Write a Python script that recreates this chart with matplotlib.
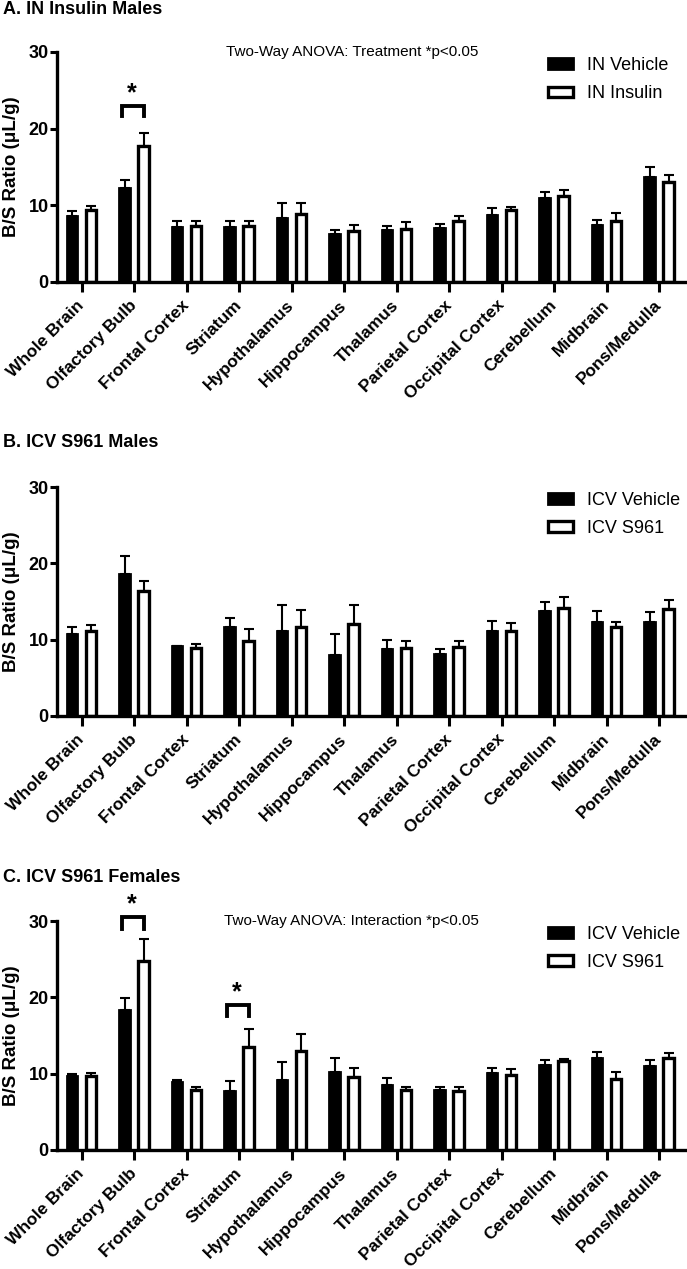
import numpy as np
import matplotlib
matplotlib.use('Agg')
import matplotlib.pyplot as plt

plt.rcParams['font.family'] = ['Liberation Sans', 'DejaVu Sans']

regions = ['Whole Brain', 'Olfactory Bulb', 'Frontal Cortex', 'Striatum', 'Hypothalamus',
           'Hippocampus', 'Thalamus', 'Parietal Cortex', 'Occipital Cortex', 'Cerebellum',
           'Midbrain', 'Pons/Medulla']

# A. IN insulin males
a_veh = [8.6, 12.3, 7.2, 7.2, 8.3, 6.2, 6.8, 7.0, 8.8, 10.9, 7.5, 13.7]
a_veh_sem = [0.6, 1.0, 0.8, 0.8, 2.0, 0.6, 0.5, 0.6, 0.8, 0.8, 0.65, 1.3]
a_trt = [9.35, 17.7, 7.35, 7.35, 8.9, 6.6, 6.9, 8.0, 9.35, 11.2, 8.0, 13.1]
a_trt_sem = [0.55, 1.8, 0.55, 0.55, 1.4, 0.9, 0.9, 0.65, 0.4, 0.85, 1.0, 0.9]

# B. ICV S961 males
b_veh = [10.8, 18.6, 9.15, 11.6, 11.1, 7.95, 8.8, 8.1, 11.2, 13.8, 12.25, 12.25]
b_veh_sem = [0.9, 2.35, 0.05, 1.3, 3.5, 2.8, 1.2, 0.7, 1.25, 1.2, 1.5, 1.35]
b_trt = [11.1, 16.4, 8.95, 9.8, 11.65, 12.0, 8.95, 9.1, 11.1, 14.1, 11.6, 14.05]
b_trt_sem = [0.8, 1.3, 0.5, 1.65, 2.2, 2.6, 0.9, 0.75, 1.1, 1.5, 0.75, 1.2]

# C. ICV S961 females
c_veh = [9.65, 18.4, 8.85, 7.75, 9.2, 10.2, 8.5, 7.9, 10.05, 11.2, 12.0, 10.95]
c_veh_sem = [0.3, 1.55, 0.3, 1.25, 2.35, 1.9, 0.9, 0.35, 0.7, 0.6, 0.9, 0.9]
c_trt = [9.65, 24.8, 7.8, 13.5, 12.95, 9.5, 7.8, 7.75, 9.85, 11.6, 9.3, 12.1]
c_trt_sem = [0.4, 2.9, 0.4, 2.4, 2.2, 1.25, 0.4, 0.45, 0.8, 0.35, 0.95, 0.65]

panels = [
    ('A. IN Insulin Males', a_veh, a_veh_sem, a_trt, a_trt_sem, 'IN Vehicle', 'IN Insulin',
     'Two-Way ANOVA: Treatment *p<0.05', [(1, 21.6, 23.0, 24.6)]),
    ('B. ICV S961 Males', b_veh, b_veh_sem, b_trt, b_trt_sem, 'ICV Vehicle', 'ICV S961',
     None, []),
    ('C. ICV S961 Females', c_veh, c_veh_sem, c_trt, c_trt_sem, 'ICV Vehicle', 'ICV S961',
     'Two-Way ANOVA: Interaction *p<0.05', [(1, 29.0, 30.5, 32.2), (3, 17.5, 19.0, 20.7)]),
]

W, H = 687, 1269
fig = plt.figure(figsize=(W / 100, H / 100), dpi=100)

axes_px = [(52, 282), (487, 716), (921, 1150)]
title_px = [10, 442, 878]
x = np.arange(len(regions))
off = 0.18
bw = 0.2

for i, (title, veh, veh_sem, trt, trt_sem, lab1, lab2, note, sig) in enumerate(panels):
    top, bot = axes_px[i]
    ax = fig.add_axes([57 / W, 1 - bot / H, 630 / W, (bot - top) / H])
    ax.errorbar(x - off, veh, yerr=[np.zeros(len(veh)), veh_sem], fmt='none',
                ecolor='black', elinewidth=1.5, capsize=3.5, capthick=1.5, zorder=1)
    ax.errorbar(x + off, trt, yerr=[np.zeros(len(trt)), trt_sem], fmt='none',
                ecolor='black', elinewidth=1.5, capsize=3.5, capthick=1.5, zorder=1)
    ax.bar(x - off, veh, width=bw, color='black', edgecolor='black', linewidth=2, label=lab1, zorder=2)
    ax.bar(x + off, trt, width=bw, color='white', edgecolor='black', linewidth=2.4, label=lab2, zorder=2)

    ax.set_xlim(-0.47, 11.53)
    ax.set_ylim(0, 30)
    ax.set_yticks([0, 10, 20, 30])
    ax.set_xticks(x)
    ax.set_xticklabels(regions, rotation=45, ha='right', va='center', rotation_mode='anchor',
                       fontsize=12.5, fontweight='bold')
    for lbl in ax.get_yticklabels():
        lbl.set_fontweight('bold')
        lbl.set_fontsize(13)
    for s in ['top', 'right']:
        ax.spines[s].set_visible(False)
    for s in ['left', 'bottom']:
        ax.spines[s].set_linewidth(2.4)
    ax.tick_params(axis='y', direction='out', length=5, width=2.2, pad=1)
    ax.tick_params(axis='x', direction='out', length=7, width=2.2, pad=8)
    ax.set_ylabel('B/S Ratio (\u03bcL/g)', fontsize=13.5, fontweight='bold')
    ax.yaxis.set_label_coords(-0.058, 0.5)

    leg = ax.legend(loc='upper left', bbox_to_anchor=(0.78, 0.98), frameon=False,
                    fontsize=13, handlelength=1.35, handleheight=0.55, handletextpad=0.8,
                    labelspacing=0.65, borderpad=0, borderaxespad=0)

    if note:
        ax.text(0.468, 1.0, note, transform=ax.transAxes, ha='center', va='center', fontsize=11)

    for j, y0, y1, ys in sig:
        ax.plot([j - off - 0.05, j - off - 0.05, j + off, j + off], [y0, y1, y1, y0],
                color='black', lw=2.8, clip_on=False, solid_joinstyle='miter')
        ax.text(j - 0.04, ys, '*', ha='center', va='center', fontsize=18, fontweight='bold',
                clip_on=False)

    fig.text(0.004, 1 - title_px[i] / H, title, ha='left', va='center', fontsize=13,
             fontweight='bold')

fig.savefig('out.png', dpi=100)
